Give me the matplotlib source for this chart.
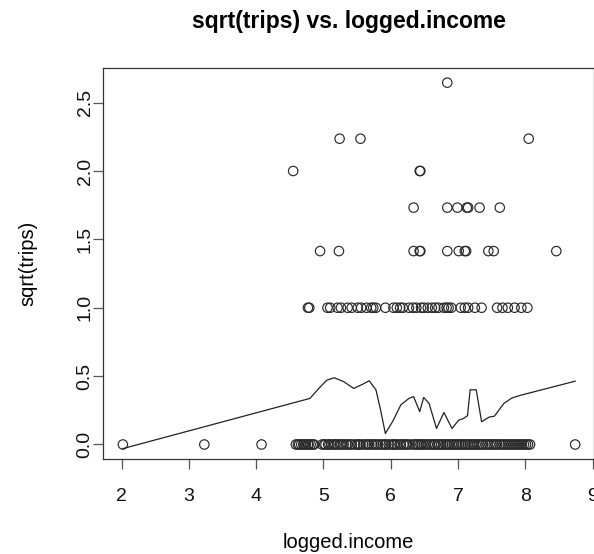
import matplotlib
matplotlib.use("Agg")
import matplotlib.pyplot as plt

# logged income of households that reported zero trips
income_0 = [2.02, 3.23, 4.08, 4.59, 4.62, 4.64, 4.67, 4.70, 4.71, 4.74, 4.77, 4.78, 4.81, 4.84,
            4.86, 4.98, 5.01, 5.03, 5.07, 5.09, 5.12, 5.16, 5.18, 5.21, 5.25, 5.27, 5.30, 5.34,
            5.36, 5.40, 5.42, 5.47, 5.50, 5.52, 5.55, 5.59, 5.63, 5.66, 5.68, 5.72, 5.75, 5.78,
            5.81, 5.85, 5.88, 5.91, 5.93, 5.97, 6.01, 6.04, 6.06, 6.09, 6.13, 6.15, 6.19, 6.22,
            6.24, 6.28, 6.33, 6.36, 6.39, 6.41, 6.44, 6.46, 6.49, 6.52, 6.55, 6.58, 6.61, 6.64,
            6.66, 6.70, 6.72, 6.75, 6.78, 6.81, 6.83, 6.86, 6.88, 6.91, 6.94, 6.97, 6.99, 7.02,
            7.05, 7.07, 7.10, 7.12, 7.15, 7.18, 7.21, 7.23, 7.26, 7.29, 7.32, 7.35, 7.37, 7.41,
            7.44, 7.47, 7.50, 7.53, 7.56, 7.58, 7.62, 7.65, 7.68, 7.71, 7.74, 7.77, 7.80, 7.83,
            7.86, 7.89, 7.92, 7.95, 7.98, 8.01, 8.04, 8.07, 8.74]

# logged income of households with one trip
income_1 = [4.77, 4.79, 5.06, 5.10, 5.21, 5.26, 5.36, 5.42, 5.51, 5.56, 5.64, 5.71, 5.74, 5.78,
            5.92, 6.04, 6.09, 6.14, 6.18, 6.27, 6.33, 6.38, 6.45, 6.49, 6.55, 6.61, 6.66, 6.71,
            6.79, 6.83, 6.86, 6.90, 7.04, 7.10, 7.15, 7.25, 7.35, 7.58, 7.66, 7.74, 7.84,
            7.94, 8.03]

# households with two, three, four, five and seven trips
income_2 = [4.95, 5.23, 6.34, 6.43, 6.44, 6.84, 7.01, 7.10, 7.12, 7.45, 7.53, 8.46]
income_3 = [6.34, 6.84, 6.99, 7.13, 7.15, 7.32, 7.62]
income_4 = [4.55, 6.43, 6.44]
income_5 = [5.24, 5.55, 8.05]
income_7 = [6.84]

trip_counts = [0, 1, 2, 3, 4, 5, 7]
income_groups = [income_0, income_1, income_2, income_3, income_4, income_5, income_7]

# smoothed sqrt(trips) along logged income
smooth_x = [2.02, 4.80, 4.95, 5.05, 5.16, 5.30, 5.45, 5.58, 5.68, 5.78, 5.85, 5.92, 6.03,
            6.15, 6.27, 6.34, 6.43, 6.49, 6.57, 6.68, 6.79, 6.91, 7.01, 7.08, 7.14, 7.18,
            7.21, 7.27, 7.35, 7.46, 7.54, 7.68, 7.80, 7.93, 8.74]
smooth_y = [-0.03, 0.337, 0.42, 0.47, 0.488, 0.46, 0.41, 0.44, 0.466, 0.40, 0.25, 0.08, 0.17,
            0.29, 0.337, 0.35, 0.24, 0.344, 0.30, 0.117, 0.234, 0.117, 0.178, 0.19, 0.21, 0.40,
            0.40, 0.40, 0.166, 0.20, 0.207, 0.30, 0.34, 0.36, 0.463]

plt.rcParams['font.family'] = ['Liberation Sans', 'DejaVu Sans']

fig = plt.figure(figsize=(5.94, 5.54), dpi=100)
ax = fig.add_axes([0.174, 0.1715, 0.826, 0.7055])

for n, xs in zip(trip_counts, income_groups):
    ax.scatter(xs, [n ** 0.5] * len(xs), s=46, facecolors='none',
               edgecolors='#2a2a2a', linewidths=0.85, zorder=2)

ax.plot(smooth_x, smooth_y, color='#222222', linewidth=0.9, zorder=3)

ax.set_xlim(1.73, 9.02)
ax.set_ylim(-0.106, 2.752)
ax.set_xticks([2, 3, 4, 5, 6, 7, 8, 9])
ax.set_yticks([0.0, 0.5, 1.0, 1.5, 2.0, 2.5])
ax.set_yticklabels(['0.0', '0.5', '1.0', '1.5', '2.0', '2.5'], rotation=90, va='center')

for side in ['left', 'bottom', 'top', 'right']:
    ax.spines[side].set_color('#333333')
    ax.spines[side].set_linewidth(0.9)
ax.tick_params(axis='both', direction='out', length=7, width=0.9, color='#555555',
               labelsize=14, labelcolor='#111111')
ax.tick_params(axis='x', pad=14)
ax.tick_params(axis='y', pad=0)

ax.set_title('sqrt(trips) vs. logged.income', fontsize=16.5, fontweight='bold', pad=29)
ax.set_xlabel('logged.income', fontsize=14.5, labelpad=20)
ax.set_ylabel('sqrt(trips)', fontsize=14.5, labelpad=28)

fig.savefig('out.png', dpi=100)
